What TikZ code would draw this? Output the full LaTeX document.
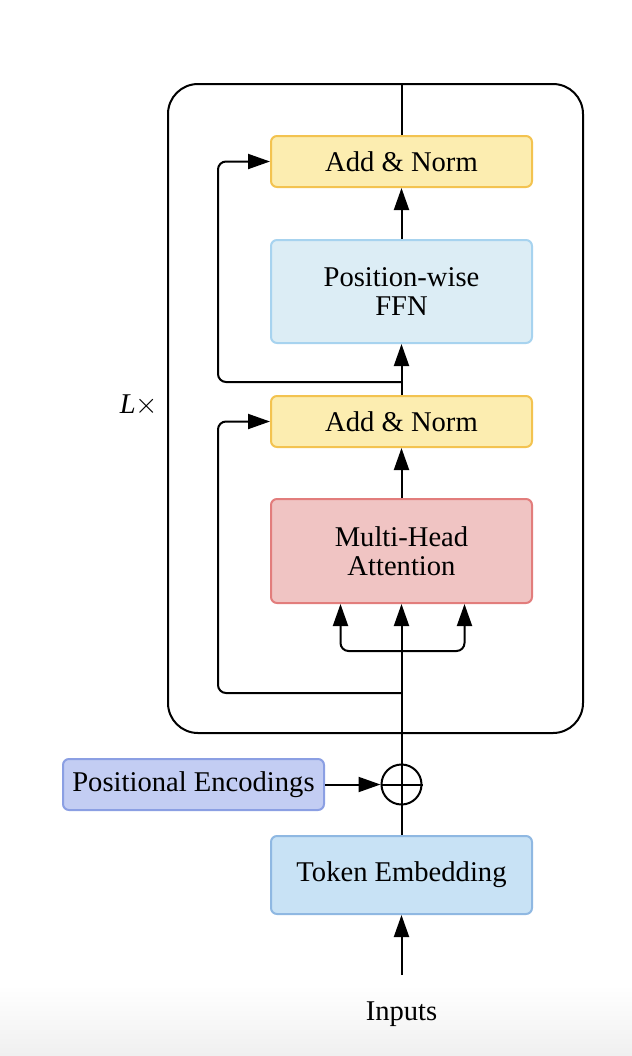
\documentclass[tikz,border=0pt]{standalone}
\usepackage{fontspec}
\setmainfont{Liberation Serif}
\usetikzlibrary{arrows.meta,calc}
\definecolor{anfill}{HTML}{FCEDB0}
\definecolor{anline}{HTML}{F3C350}
\definecolor{ffnfill}{HTML}{DCEDF5}
\definecolor{ffnline}{HTML}{A7D3EF}
\definecolor{mhafill}{HTML}{F0C4C3}
\definecolor{mhaline}{HTML}{E27D7C}
\definecolor{pefill}{HTML}{C3CDF3}
\definecolor{peline}{HTML}{8B9FE3}
\definecolor{tefill}{HTML}{C8E2F5}
\definecolor{teline}{HTML}{8FB8E2}
\begin{document}
\begin{tikzpicture}[x=0.5pt,y=-0.5pt,
  every node/.style={font=\fontsize{14.3}{14.5}\selectfont},
  blk/.style={draw, line width=1pt, rounded corners=3pt, align=center,
    minimum width=130.5pt, inner sep=0pt},
  anbox/.style={blk, fill=anfill, draw=anline, minimum height=25.5pt},
  ffnbox/.style={blk, fill=ffnfill, draw=ffnline, minimum height=51.5pt},
  mhabox/.style={blk, fill=mhafill, draw=mhaline, minimum height=52pt},
  pebox/.style={blk, fill=pefill, draw=peline, minimum height=25.5pt},
  tebox/.style={blk, fill=tefill, draw=teline, minimum height=39pt},
  wire/.style={line width=1pt, black},
  arr/.style={wire, -{Triangle[length=11pt,width=7.5pt]}},
  rc/.style={rounded corners=4pt}]
\useasboundingbox (0,0) rectangle (632,1056);
\shade[top color=white, bottom color=gray!12, draw=none] (0,985) rectangle (632,1056);

\node[draw, line width=1pt, rounded corners=15pt, minimum width=207.5pt,
  minimum height=324.5pt, inner sep=0pt] (frame) at (375.5,408.5) {};

\node[anbox] (an2) at (401.5,161.5) {Add \& Norm};
\node[ffnbox] (ffn) at (401.5,291.5) {Position-wise\\FFN};
\node[anbox] (an1) at (401.5,421.5) {Add \& Norm};
\node[mhabox] (mha) at (401.5,551) {Multi-Head\\Attention};
\node[pebox] (pe) at (193.5,784.5) {Positional Encodings};
\node[tebox] (te) at (401.5,875) {Token Embedding};
\node[draw, circle, line width=1pt, minimum size=20pt, inner sep=0pt] (plus) at (401.5,784.5) {};
\node (inputs) at (401.5,1014) {Inputs};
\node (lx) at (139,405) {\textit{L}$\times$};

\draw[wire] (plus.north) -- (plus.south);
\draw[wire] (plus.west) -- (plus.east);

\coordinate (r2) at (401.5,382);
\coordinate (l2) at (218,382);
\coordinate (r1) at (401.5,693);
\coordinate (l1) at (218,693);
\coordinate (fk) at (401.5,651);
\coordinate (ins) at (401.5,975);

\draw[wire] (an2.north) -- (an2.north |- frame.north);
\draw[arr] (ffn.north) -- (an2.south);
\draw[arr] (an1.north) -- (ffn.south);
\draw[arr, rc] (r2) -- (l2) |- (an2.west);
\draw[arr] (mha.north) -- (an1.south);
\draw[arr, rc] (r1) -- (l1) |- (an1.west);
\draw[arr] (plus.north) -- (mha.south);
\draw[arr, rc] (fk) -| ($(mha.south)+(-61,0)$);
\draw[arr, rc] (fk) -| ($(mha.south)+(63,0)$);
\draw[arr] (pe.east) -- (plus.west);
\draw[wire] (te.north) -- (plus.south);
\draw[arr] (ins) -- (te.south);
\end{tikzpicture}
\end{document}
